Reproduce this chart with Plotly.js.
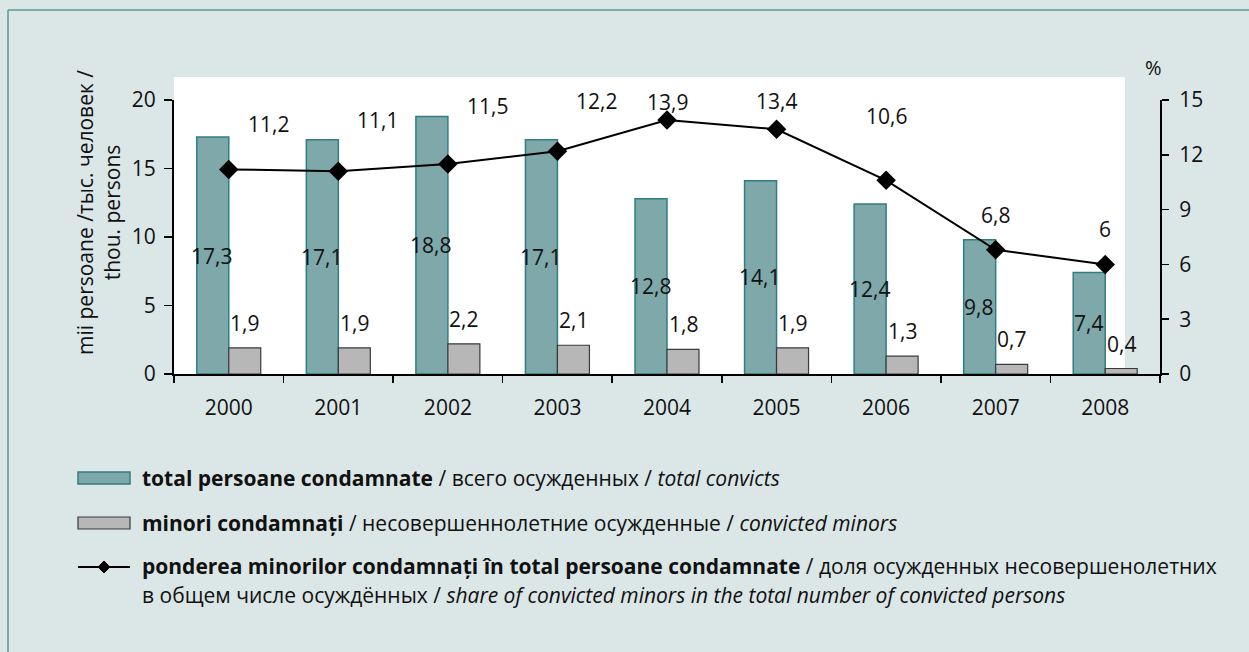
<!DOCTYPE html>
<html>
<head>
<meta charset="utf-8">
<script src="https://cdn.plot.ly/plotly-3.0.1.min.js"></script>
<style>
  html, body { margin: 0; padding: 0; background: #dbe6e6; }
  #chart { width: 1249px; height: 652px; }
</style>
</head>
<body>
<div id="chart"></div>
<script>
// values
const years = ['2000', '2001', '2002', '2003', '2004', '2005', '2006', '2007', '2008'];
const totalConvicts = [17.3, 17.1, 18.8, 17.1, 12.8, 14.1, 12.4, 9.8, 7.4];
const minorConvicts = [1.9, 1.9, 2.2, 2.1, 1.8, 1.9, 1.3, 0.7, 0.4];
const minorShare = [11.2, 11.1, 11.5, 12.2, 13.9, 13.4, 10.6, 6.8, 6];

// hand-placed share labels in the original (pixel nudges from the point)
const shareLabelNudge = [[40, 45], [39, 51], [40, 58], [39, 50], [0, 18], [0, 28], [0, 64], [0, 35], [0, 35]];

const FONT = 'Open Sans, Noto Sans, sans-serif';
const TEAL = '#7fa8aa';
const TEAL_EDGE = '#2f7f80';
const GREY = '#b7b7b7';
const GREY_EDGE = '#3a3a3a';

// plot area in page pixels
const L = 174, R = 1160, T = 100, B = 374;
const px = x => (x - L) / (R - L);
const py = y => (B - y) / (B - T);
const fmt = v => String(v).replace('.', ',');

const traces = [
  {
    type: 'bar', x: years, y: totalConvicts, name: 'total',
    marker: { color: TEAL, line: { color: TEAL_EDGE, width: 1.5 } },
    hoverinfo: 'skip'
  },
  {
    type: 'bar', x: years, y: minorConvicts, name: 'minori',
    marker: { color: GREY, line: { color: GREY_EDGE, width: 1.2 } },
    hoverinfo: 'skip'
  },
  {
    type: 'scatter', mode: 'lines+markers', x: years, y: minorShare, yaxis: 'y2',
    line: { color: '#000', width: 2 },
    marker: { symbol: 'diamond', size: 15, color: '#000' },
    hoverinfo: 'skip'
  }
];

const labelFont = { size: 21, color: '#111' };
const annotations = [];
years.forEach((yr, i) => {
  // category axis: use the serial index so '2000' is not read as a number
  annotations.push({
    x: i, y: totalConvicts[i] / 2, xref: 'x', yref: 'y', xshift: -17,
    text: fmt(totalConvicts[i]), showarrow: false, font: labelFont
  });
  annotations.push({
    x: i, y: minorConvicts[i], xref: 'x', yref: 'y', xshift: 16, yshift: 25,
    text: fmt(minorConvicts[i]), showarrow: false, font: labelFont
  });
  annotations.push({
    x: i, y: minorShare[i], xref: 'x', yref: 'y2',
    xshift: shareLabelNudge[i][0], yshift: shareLabelNudge[i][1],
    text: fmt(minorShare[i]), showarrow: false, font: labelFont
  });
});

// axis titles
annotations.push({
  xref: 'paper', yref: 'paper', x: px(98), y: py(213), xanchor: 'center', yanchor: 'middle',
  textangle: -90, text: 'mii persoane /тыс. человек /<br>thou. persons', showarrow: false,
  font: { size: 21, color: '#111' }, align: 'center'
});
annotations.push({
  xref: 'paper', yref: 'paper', x: px(1153), y: py(68), xanchor: 'center', yanchor: 'middle',
  text: '%', showarrow: false, font: { size: 20, color: '#111' }
});

// legend text
const legendText = [
  { y: 478, t: '<b>total persoane condamnate</b> / всего осужденных / <i>total convicts</i>' },
  { y: 523, t: '<b>minori condamnați</b> / несовершеннолетние осужденные / <i>convicted minors</i>' },
  { y: 566, t: '<b>ponderea minorilor condamnați în total persoane condamnate</b> / доля осужденных несовершенолетних' },
  { y: 595, t: 'в общем числе осуждённых / <i>share of convicted minors in the total number of convicted persons</i>' }
];
legendText.forEach(l => annotations.push({
  xref: 'paper', yref: 'paper', x: px(140), y: py(l.y), xanchor: 'left', yanchor: 'middle',
  align: 'left', text: l.t, showarrow: false, font: { size: 21, color: '#111' }
}));

const shapes = [
  // white plotting panel
  { type: 'rect', layer: 'below', xref: 'paper', yref: 'paper', x0: 0, x1: px(1125), y0: 0, y1: py(77),
    fillcolor: '#fff', line: { width: 0 } },
  // frame lines at left and top
  { type: 'line', xref: 'paper', yref: 'paper', x0: px(8), x1: px(8), y0: py(10), y1: py(660),
    line: { color: '#5b9a9b', width: 1.5 } },
  { type: 'line', xref: 'paper', yref: 'paper', x0: px(8), x1: px(1260), y0: py(10), y1: py(10),
    line: { color: '#5b9a9b', width: 1.5 } },
  // legend swatches
  { type: 'rect', xref: 'paper', yref: 'paper', x0: px(78), x1: px(130), y0: py(484), y1: py(472),
    fillcolor: TEAL, line: { color: TEAL_EDGE, width: 1.5 } },
  { type: 'rect', xref: 'paper', yref: 'paper', x0: px(78), x1: px(130), y0: py(529), y1: py(517),
    fillcolor: GREY, line: { color: GREY_EDGE, width: 1.2 } },
  { type: 'line', xref: 'paper', yref: 'paper', x0: px(78), x1: px(130), y0: py(567), y1: py(567),
    line: { color: '#000', width: 2 } },
  { type: 'path', xref: 'paper', yref: 'paper',
    path: `M${px(104)},${py(561)} L${px(110)},${py(567)} L${px(104)},${py(573)} L${px(98)},${py(567)} Z`,
    fillcolor: '#000', line: { color: '#000', width: 1 } }
];

const axisFont = { family: FONT, size: 21, color: '#111' };

const layout = {
  width: 1249, height: 652,
  margin: { l: L, r: 1249 - R, t: T, b: 652 - B },
  paper_bgcolor: '#dbe6e6',
  plot_bgcolor: 'rgba(0,0,0,0)',
  font: { family: FONT, color: '#111' },
  showlegend: false,
  barmode: 'group',
  bargap: 0.416,
  bargroupgap: 0,
  xaxis: {
    type: 'category', range: [-0.5, 8.5], tickson: 'boundaries', ticks: 'outside', ticklen: 7,
    tickwidth: 1.5, tickcolor: '#000', showline: true, linecolor: '#000', linewidth: 2,
    showgrid: false, tickfont: axisFont, zeroline: false, tickangle: 0, ticklabelstandoff: 14
  },
  xaxis2: {
    overlaying: 'x', anchor: 'y', range: [-0.5, 8.5], tick0: -0.5, dtick: 1,
    ticks: 'inside', ticklen: 7, tickwidth: 1.5, tickcolor: '#000',
    showticklabels: false, showgrid: false, zeroline: false, showline: false
  },
  yaxis: {
    range: [0, 20], dtick: 5, ticks: 'outside', ticklen: 8, tickwidth: 1.5, tickcolor: '#000',
    showline: true, linecolor: '#000', linewidth: 2, showgrid: false, zeroline: false,
    tickfont: axisFont, ticklabelstandoff: 4
  },
  yaxis2: {
    overlaying: 'y', side: 'right', anchor: 'x', range: [0, 15], dtick: 3,
    ticks: 'outside', ticklen: 7, tickwidth: 1.5, tickcolor: '#000',
    showline: true, linecolor: '#000', linewidth: 2, showgrid: false, zeroline: false,
    tickfont: axisFont, ticklabelstandoff: 6
  },
  yaxis3: {
    overlaying: 'y', anchor: 'x', side: 'left', range: [0, 20], dtick: 5,
    ticks: 'inside', ticklen: 7, tickwidth: 1.5, tickcolor: '#000',
    showticklabels: false, showgrid: false, zeroline: false, showline: false
  },
  yaxis4: {
    overlaying: 'y', anchor: 'x', side: 'right', range: [0, 15], dtick: 3,
    ticks: 'inside', ticklen: 7, tickwidth: 1.5, tickcolor: '#000',
    showticklabels: false, showgrid: false, zeroline: false, showline: false
  },
  annotations: annotations,
  shapes: shapes
};

Plotly.newPlot('chart', traces, layout, { staticPlot: true, displayModeBar: false })
  .catch(err => console.error('Error plotting:', err));
</script>
</body>
</html>
